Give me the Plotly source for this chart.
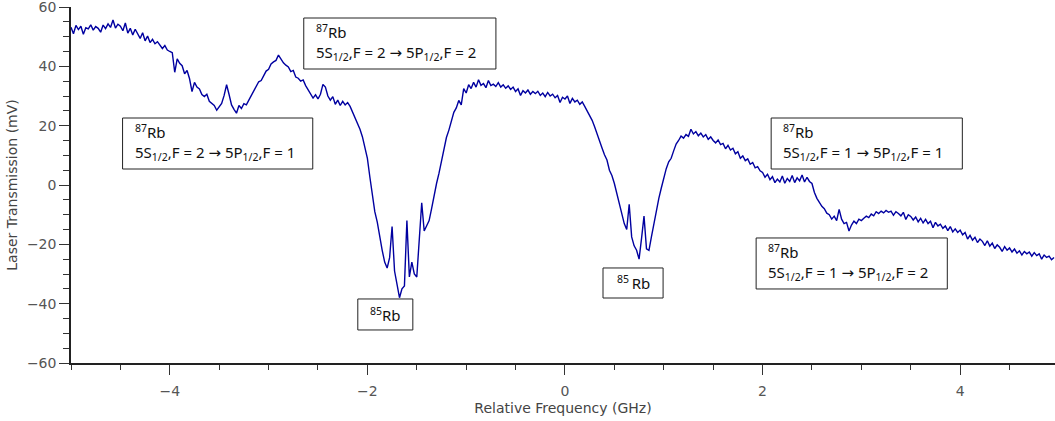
import numpy as np
import plotly.graph_objects as go

# Relative frequency grid (GHz): start and spacing of the recorded sweep
freq_start_ghz = -5.0
freq_step_ghz = 0.025

# Laser transmission (mV), 20 samples per 0.5 GHz
transmission_mv = [
    # -5.0 .. -4.525
    53.2, 51.0, 53.8, 52.4, 53.5, 50.8, 53.0, 52.6, 54.0, 52.2, 53.4, 52.8, 51.5, 53.9, 52.7, 54.3, 53.1, 55.6, 52.9, 54.2,
    # -4.5 .. -4.025
    53.5, 52.0, 54.6, 51.2, 52.8, 50.6, 52.5, 51.0, 49.4, 51.3, 48.6, 50.2, 48.0, 49.1, 47.6, 48.3, 47.2, 46.0, 47.0, 45.5,
    # -4.0 .. -3.525
    45.0, 44.6, 38.0, 42.5, 41.0, 40.2, 37.5, 38.6, 35.8, 31.5, 34.6, 33.0, 32.4, 30.5, 29.8, 30.6, 28.2, 27.5, 26.8, 25.2,
    # -3.5 .. -3.025
    26.4, 27.5, 30.2, 33.8, 30.5, 27.0, 25.5, 24.2, 26.8, 25.8, 27.4, 27.0, 28.6, 30.2, 32.0, 33.2, 34.8, 35.2, 37.0, 38.4,
    # -3.0 .. -2.525
    39.0, 40.8, 41.5, 42.0, 43.8, 42.5, 41.2, 40.4, 39.8, 38.2, 38.6, 36.4, 36.0, 35.0, 35.4, 33.5, 32.0, 30.8, 29.3, 30.4,
    # -2.5 .. -2.025
    29.0, 30.6, 33.9, 33.0, 30.0, 28.6, 29.8, 27.2, 28.6, 26.8, 28.2, 27.0, 27.8, 26.5, 24.6, 23.0, 21.2, 18.8, 16.2, 12.5,
    # -2.0 .. -1.525
    9.0, 2.7, -4.0, -9.0, -12.5, -17.5, -22.0, -26.0, -28.0, -24.5, -14.0, -29.0, -33.5, -38.0, -35.0, -34.0, -12.0, -31.0, -26.0, -30.0,
    # -1.5 .. -1.025
    -31.0, -18.0, -6.0, -15.5, -14.0, -12.0, -8.0, -3.0, 0.5, 4.0, 8.0, 11.5, 16.0, 18.5, 21.5, 24.5, 26.0, 28.5, 27.0, 32.5,
    # -1.0 .. -0.525
    31.0, 33.8, 32.5, 34.6, 33.0, 35.5, 33.6, 34.2, 32.8, 35.2, 33.5, 34.0, 33.2, 34.5, 33.0, 33.8, 32.6, 33.4, 32.2, 33.0,
    # -0.5 .. -0.025
    31.5, 32.4, 30.2, 31.8, 31.0, 32.0, 30.6, 31.5, 30.8, 31.6, 30.2, 31.0, 29.8, 31.2, 30.0, 30.6, 29.4, 30.2, 27.8, 29.6,
    # 0.0 .. 0.475
    29.0, 30.0, 27.5, 29.2, 28.0, 28.6, 27.2, 28.0, 26.5, 25.0, 23.6, 21.8, 19.6, 17.0, 14.8, 12.5, 10.2, 8.4, 5.0, 3.2,
    # 0.5 .. 0.975
    0.5, -3.0, -6.0, -9.5, -13.0, -15.0, -6.5, -17.5, -20.5, -22.0, -25.0, -18.0, -10.5, -21.5, -22.0, -17.5, -13.0, -9.0, -4.5, -1.0,
    # 1.0 .. 1.475
    2.5, 5.5, 7.8, 9.0, 11.5, 13.8, 15.0, 16.5, 15.8, 17.0, 16.4, 18.8, 17.2, 18.0, 16.6, 17.5, 16.2, 17.0, 15.4, 16.2,
    # 1.5 .. 1.975
    15.0, 14.2, 15.2, 13.6, 14.0, 12.2, 13.4, 11.8, 12.4, 10.5, 11.2, 9.0, 9.8, 8.2, 8.8, 7.0, 7.6, 5.8, 6.2, 4.8,
    # 2.0 .. 2.475
    4.2, 2.6, 3.6, 1.8, 2.8, 0.8, 2.0, 1.0, 3.0, 0.6, 2.2, 1.2, 3.2, 0.8, 2.4, 1.4, 3.4, 1.0, 2.6, 1.2,
    # 2.5 .. 2.975
    0.5, -2.5, -4.5, -6.0, -7.2, -8.0, -9.5, -10.0, -11.5, -10.5, -12.0, -8.2, -11.5, -13.0, -12.6, -15.5, -13.5, -12.2, -13.0, -11.5,
    # 3.0 .. 3.475
    -12.0, -11.2, -10.5, -11.0, -9.8, -10.4, -9.0, -9.6, -8.8, -9.4, -8.6, -9.2, -8.8, -10.2, -9.0, -9.6, -10.4, -9.2, -11.6, -10.0,
    # 3.5 .. 3.975
    -10.6, -11.8, -10.8, -12.4, -11.2, -12.8, -11.6, -13.0, -12.2, -14.4, -12.6, -13.8, -13.2, -14.6, -13.8, -15.4, -14.0, -15.8, -14.8, -16.0,
    # 4.0 .. 4.475
    -15.2, -16.8, -16.0, -18.2, -17.0, -18.6, -17.6, -19.4, -18.2, -19.0, -20.4, -18.8, -20.6, -19.6, -21.4, -20.2, -21.0, -22.4, -20.8, -22.0,
    # 4.5 .. 4.95
    -21.2, -22.6, -21.6, -23.0, -22.2, -23.6, -22.4, -23.2, -22.6, -24.0, -22.8, -23.8, -23.2, -25.0, -23.6, -24.4, -24.0, -25.2, -24.4,
]

freq_ghz = freq_start_ghz + freq_step_ghz * np.arange(len(transmission_mv))

# Annotation labels
label_texts = [
    "<sup>87</sup>Rb<br>5S<sub>1/2</sub>,F = 2 → 5P<sub>1/2</sub>,F = 1",
    "<sup>87</sup>Rb<br>5S<sub>1/2</sub>,F = 2 → 5P<sub>1/2</sub>,F = 2",
    "<sup>85</sup>Rb",
    "<sup>85 </sup>Rb",
    "<sup>87</sup>Rb<br>5S<sub>1/2</sub>,F = 1 → 5P<sub>1/2</sub>,F = 1",
    "<sup>87</sup>Rb<br>5S<sub>1/2</sub>,F = 1 → 5P<sub>1/2</sub>,F = 2",
]
# label boxes in data coordinates: (x0, x1, y0, y1)
label_boxes = [
    (-4.478, -2.553, 5.39, 22.58),
    (-2.644, -0.699, 39.10, 56.29),
    (-2.097, -1.540, -48.87, -38.42),
    (0.385, 0.993, -38.09, -27.97),
    (2.087, 4.022, 5.39, 22.58),
    (1.935, 3.870, -35.05, -17.86),
]
two_line = [True, True, False, False, True, True]

fig = go.Figure()
fig.add_trace(go.Scatter(
    x=freq_ghz, y=transmission_mv, mode="lines",
    line=dict(color="#0000a0", width=1.4),
    showlegend=False, hoverinfo="skip",
))

box_font = dict(family="Noto Sans, DejaVu Sans, sans-serif", size=15, color="#111")
for text, (x0, x1, y0, y1), tl in zip(label_texts, label_boxes, two_line):
    fig.add_shape(type="rect", xref="x", yref="y", x0=x0, x1=x1, y0=y0, y1=y1,
                  line=dict(color="#222", width=1), fillcolor="white", layer="above")
    if tl:
        fig.add_annotation(x=x0, y=y1, xref="x", yref="y", text=text, showarrow=False,
                           xanchor="left", yanchor="top", align="left", xshift=10, yshift=-1,
                           font=box_font)
    else:
        fig.add_annotation(x=(x0 + x1) / 2, y=(y0 + y1) / 2, xref="x", yref="y", text=text,
                           showarrow=False, xanchor="center", yanchor="middle", font=box_font)

axis_common = dict(
    showline=True, linecolor="#222", linewidth=1.5, mirror=False,
    showgrid=False, zeroline=False, automargin=False,
    ticks="outside", ticklen=10, tickcolor="#333", tickwidth=1.3,
    ticklabeloverflow="allow",
    tickfont=dict(family="DejaVu Sans, sans-serif", size=14, color="#555"),
)
fig.update_layout(
    width=1055, height=421,
    margin=dict(l=71, r=0, t=7, b=58),
    paper_bgcolor="white", plot_bgcolor="white",
    xaxis=dict(range=[-5, 4.96], dtick=2, tick0=0, ticklabelstandoff=4,
               minor=dict(dtick=0.5, ticklen=5, ticks="outside", tickcolor="#333", tickwidth=1.3),
               title=dict(text="Relative Frequency (GHz)", standoff=6,
                          font=dict(family="DejaVu Sans, sans-serif", size=14, color="#444")),
               **axis_common),
    yaxis=dict(range=[-60, 60], dtick=20, tick0=0,
               minor=dict(dtick=5, ticklen=6, ticks="outside", tickcolor="#333", tickwidth=1.3),
               title=dict(text="Laser Transmission (mV)", standoff=6,
                          font=dict(family="DejaVu Sans, sans-serif", size=14, color="#444")),
               **axis_common),
)

fig.write_html("out.html", config={"displayModeBar": False},
               post_script="document.body.style.margin='0px';")
